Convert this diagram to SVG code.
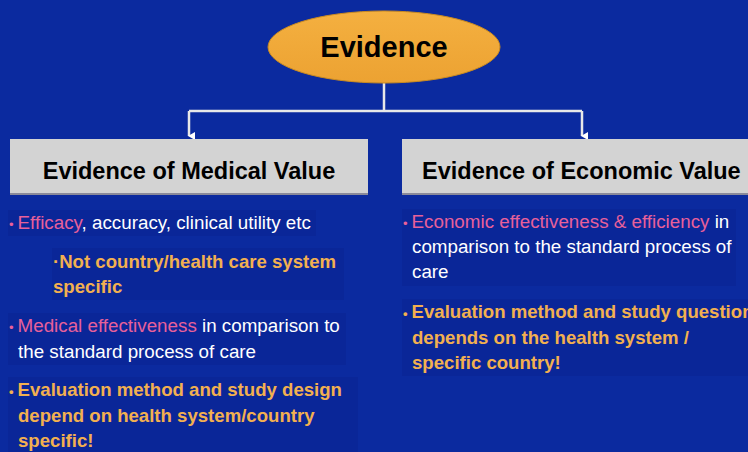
<svg xmlns="http://www.w3.org/2000/svg" width="748" height="452" viewBox="0 0 748 452">
<style>
.t{font-family:"Liberation Sans",Arial,sans-serif;}
.hdr{font-size:23.5px;font-weight:bold;fill:#000;}
.n{font-size:18.8px;fill:#ffffff;}
.p{fill:#e8609a;}
.o{font-size:18.6px;font-weight:bold;fill:#f2b050;}
.b{font-size:13px;}
.hl{fill:#0a2698;}
.conn{stroke:#e8e8e8;stroke-width:2.5;fill:none;}
</style>
<defs>
<marker id="ah" markerWidth="8" markerHeight="8" refX="4" refY="6" orient="auto" markerUnits="userSpaceOnUse"><path d="M0,0 L8,0 L4,7 Z" fill="#ffffff"/></marker>
<linearGradient id="eg" x1="0" y1="0" x2="0" y2="1"><stop offset="0" stop-color="#f4b040"/><stop offset="1" stop-color="#eca232"/></linearGradient>
</defs>
<rect width="748" height="452" fill="#0b2a9f"/>
<g id="connectors">
<path class="conn" d="M384,83 V111"/>
<path class="conn" d="M189,111 H582"/>
<path class="conn" d="M189,111 V136" marker-end="url(#ah)"/>
<path class="conn" d="M582,111 V136" marker-end="url(#ah)"/>
</g>
<g id="evidence">
<ellipse cx="384" cy="47" rx="116" ry="36" fill="url(#eg)" stroke="#c98a20" stroke-width="1"/>
<text class="t" x="384" y="57" text-anchor="middle" font-size="29" font-weight="bold" fill="#000">Evidence</text>
</g>
<g id="medical">
<rect x="10" y="139" width="358" height="55" fill="#d3d3d3"/>
<rect x="10" y="193" width="358" height="2" fill="#8a8a9a"/>
<text class="t hdr" x="189" y="179" text-anchor="middle">Evidence of Medical Value</text>
<rect class="hl" x="8" y="210" width="308" height="26"/>
<text class="t n" x="9" y="229"><tspan class="p b">•</tspan><tspan class="p" dx="4">Efficacy</tspan>, accuracy, clinical utility etc</text>
<rect class="hl" x="52" y="248" width="292" height="52"/>
<text class="t o" x="53" y="268">·Not country/health care system</text>
<text class="t o" x="53" y="293">specific</text>
<rect class="hl" x="8" y="313" width="338" height="52"/>
<text class="t n" x="9" y="332"><tspan class="p b">•</tspan><tspan class="p" dx="4">Medical effectiveness</tspan> in comparison to</text>
<text class="t n" x="18" y="358">the standard process of care</text>
<rect class="hl" x="8" y="377" width="350" height="75"/>
<text class="t o" x="9" y="396"><tspan class="b">•</tspan><tspan dx="4">Evaluation method and study design</tspan></text>
<text class="t o" x="18" y="422">depend on health system/country</text>
<text class="t o" x="18" y="447">specific!</text>
</g>
<g id="economic">
<rect x="402" y="139" width="346" height="55" fill="#d3d3d3"/>
<rect x="402" y="193" width="346" height="2" fill="#8a8a9a"/>
<text class="t hdr" x="422" y="179">Evidence of Economic Value</text>
<rect class="hl" x="402" y="209" width="334" height="77"/>
<text class="t n" x="403" y="228"><tspan class="p b">•</tspan><tspan class="p" dx="4">Economic effectiveness &amp; efficiency</tspan> in</text>
<text class="t n" x="412" y="253">comparison to the standard process of</text>
<text class="t n" x="412" y="278">care</text>
<rect class="hl" x="402" y="299" width="346" height="77"/>
<text class="t o" x="403" y="318"><tspan class="b">•</tspan><tspan dx="4">Evaluation method and study question</tspan></text>
<text class="t o" x="412" y="344">depends on the health system /</text>
<text class="t o" x="412" y="369">specific country!</text>
</g>
</svg>
